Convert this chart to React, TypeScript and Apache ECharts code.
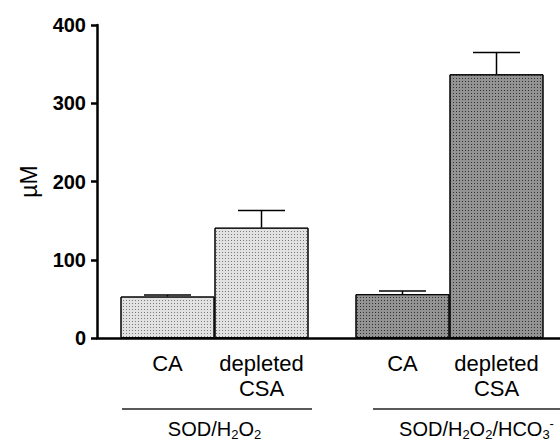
import React, { useEffect, useRef } from "react";
import * as echarts from "echarts";

const groups = ["SOD/H{sub|2}O{sub|2}", "SOD/H{sub|2}O{sub|2}/HCO{sub|3}{sup|-}"];
const barLabels = ["CA", "depleted\nCSA"];
const caValues = [53, 56];
const caUpper = [55, 60];
const depletedValues = [141, 337];
const depletedUpper = [163, 365];
const yTicks = [0, 100, 200, 300, 400];

const FONT = "'Liberation Sans', Arial, Helvetica, sans-serif";

export default function App() {
  const ref = useRef<HTMLDivElement>(null);
  useEffect(() => {
    document.body.style.margin = "0";
    if (!ref.current) return;
    const chart = echarts.init(ref.current, null, { renderer: "svg" });

    const lightStyle = {
      color: "#e2e2e2",
      borderColor: "#000",
      borderWidth: 1,
      decal: { symbol: "rect", symbolSize: 1, dashArrayX: [1, 2], dashArrayY: [1, 2], color: "#7a7a7a" },
    };
    const darkStyle = {
      color: "#939393",
      borderColor: "#000",
      borderWidth: 1,
      decal: { symbol: "rect", symbolSize: 1, dashArrayX: [1, 2], dashArrayY: [1, 2], color: "#333333" },
    };
    const styles = [lightStyle, darkStyle];

    const errData: number[][] = [];
    groups.forEach((_, i) => {
      errData.push([i, caValues[i], caUpper[i], 0]);
      errData.push([i, depletedValues[i], depletedUpper[i], 1]);
    });

    const barLabel = (idx: number) => ({
      show: true,
      position: "bottom",
      distance: 13,
      formatter: () => barLabels[idx],
      color: "#000",
      fontFamily: FONT,
      fontSize: 22,
      lineHeight: 25,
      align: "center",
    });

    const richSub = {
      main: { fontSize: 20, fontFamily: FONT, color: "#000", lineHeight: 24 },
      sub: { fontSize: 13, fontFamily: FONT, color: "#000", lineHeight: 13, verticalAlign: "bottom" },
      sup: { fontSize: 13, fontFamily: FONT, color: "#000", lineHeight: 13, verticalAlign: "top" },
    };

    chart.setOption({
      animation: false,
      aria: { enabled: true, decal: { show: true } },
      grid: { left: 97, top: 25, width: 470, bottom: 105, containLabel: false, outerBoundsMode: "none" },
      xAxis: {
        type: "category",
        data: groups.map((g, i) => ({
          value: g,
          textStyle: i === 1 ? { padding: [0, 0, 0, 54] } : {},
        })),
        axisLine: { lineStyle: { color: "#000", width: 2.5 } },
        axisTick: { show: false },
        axisLabel: {
          margin: 79,
          fontSize: 20,
          fontFamily: FONT,
          color: "#000",
          interval: 0,
          formatter: (v: string) =>
            v.split(/(\{sub\|[^}]*\}|\{sup\|[^}]*\})/).filter((s) => s).map((s) => (s.startsWith("{") ? s : `{main|${s}}`)).join(""),
          rich: richSub,
        },
      },
      yAxis: {
        type: "value",
        min: yTicks[0],
        max: yTicks[yTicks.length - 1],
        interval: 100,
        name: "µM",
        nameLocation: "middle",
        nameGap: 57,
        nameTextStyle: { fontSize: 23, fontFamily: FONT, color: "#000" },
        axisLine: { show: true, lineStyle: { color: "#000", width: 2.5 } },
        axisTick: { show: true, length: 6, lineStyle: { color: "#000", width: 2.5 } },
        splitLine: { show: false },
        axisLabel: { margin: 11, fontSize: 20, fontWeight: "bold", fontFamily: FONT, color: "#000" },
      },
      series: [
        {
          name: "CA",
          type: "bar",
          barWidth: "40%",
          barGap: "0%",
          data: caValues.map((v, i) => ({ value: v, itemStyle: styles[i] })),
          label: barLabel(0),
        },
        {
          name: "depleted CSA",
          type: "bar",
          barWidth: "40%",
          barGap: "0%",
          data: depletedValues.map((v, i) => ({ value: v, itemStyle: styles[i] })),
          label: barLabel(1),
        },
        {
          type: "custom",
          clip: false,
          z: 5,
          encode: { x: 0, y: [1, 2] },
          data: errData,
          renderItem: (params: any, api: any) => {
            const cat = api.value(0);
            const mean = api.value(1);
            const upper = api.value(2);
            const s = api.value(3);
            const band = api.size([1, 0])[0];
            const c = api.coord([cat, mean]);
            const u = api.coord([cat, upper]);
            const x = c[0] + (s === 0 ? -0.2 : 0.2) * band;
            const half = 0.1 * band;
            return {
              type: "group",
              children: [
                { type: "line", shape: { x1: x, y1: c[1], x2: x, y2: u[1] }, style: { stroke: "#000", lineWidth: 1.5 } },
                { type: "line", shape: { x1: x - half, y1: u[1], x2: x + half, y2: u[1] }, style: { stroke: "#000", lineWidth: 1.5 } },
              ],
            };
          },
        },
      ],
      graphic: [
        { type: "line", shape: { x1: 122, y1: 409, x2: 312, y2: 409 }, style: { stroke: "#222", lineWidth: 1.5 } },
        { type: "line", shape: { x1: 373, y1: 409, x2: 560, y2: 409 }, style: { stroke: "#222", lineWidth: 1.5 } },
      ],
    });
    return () => chart.dispose();
  }, []);
  return <div ref={ref} style={{ width: 560, height: 443, position: "absolute", left: 0, top: 0 }} />;
}
